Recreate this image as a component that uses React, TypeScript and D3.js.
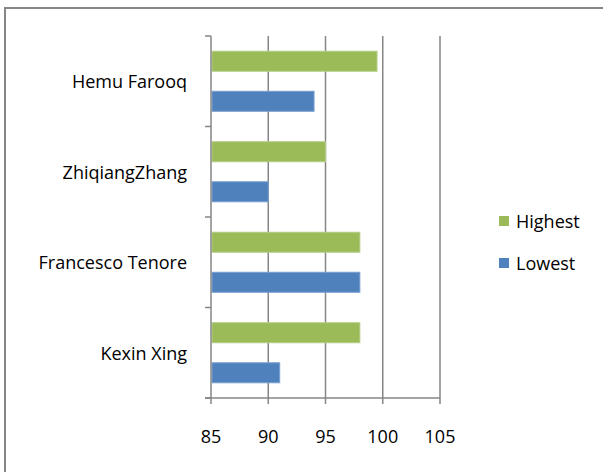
import React from "react";
import * as d3 from "d3";

// chart values
const categories = ["Hemu Farooq", "ZhiqiangZhang", "Francesco Tenore", "Kexin Xing"];
const highest = [99.5, 95, 98, 98];
const lowest = [94, 90, 98, 91];
const seriesNames = ["Highest", "Lowest"];
const xTicks = [85, 90, 95, 100, 105];

const width = 603;
const height = 472;
const plot = { left: 211, right: 440, top: 36, bottom: 398 };
const colors: Record<string, string> = { Highest: "#9BBB59", Lowest: "#4F81BD" };
const edge: Record<string, string> = { Highest: "#b4cd86", Lowest: "#7a9fcf" };
const grid = "#868686";
const font = "'Open Sans', sans-serif";

export default function App() {
  const x = d3.scaleLinear().domain([85, 105]).range([plot.left, plot.right]);
  const y = d3.scaleBand<string>().domain(categories).range([plot.top, plot.bottom]);
  const inner = d3
    .scaleBand<string>()
    .domain(seriesNames)
    .range([0, y.bandwidth()])
    .paddingInner(0.5)
    .paddingOuter(0.38);

  const values: Record<string, number[]> = { Highest: highest, Lowest: lowest };
  const boundaries = categories.map((c) => y(c)!).concat([plot.bottom]);

  return (
    <svg
      width={width}
      height={height}
      style={{ position: "absolute", left: 0, top: 0, background: "#fff" }}
    >
      <rect x={0} y={0} width={width} height={height} fill="#fff" />
      {/* chart border (runs off right/bottom) */}
      <rect x={5} y={8} width={700} height={600} fill="none" stroke={grid} strokeWidth={2} />

      {/* vertical gridlines */}
      {xTicks.slice(1).map((t) => (
        <line key={t} x1={x(t)} x2={x(t)} y1={plot.top} y2={plot.bottom} stroke={grid} strokeWidth={1.5} />
      ))}

      {/* bars */}
      {seriesNames.map((s) =>
        categories.map((c, i) => (
          <rect
            key={s + c}
            x={x(85) + 1}
            y={y(c)! + inner(s)!}
            width={x(values[s][i]) - x(85) - 1}
            height={inner.bandwidth()}
            fill={colors[s]}
            stroke={edge[s]}
            strokeWidth={1}
          />
        ))
      )}

      {/* category axis */}
      <line x1={plot.left} x2={plot.left} y1={plot.top} y2={plot.bottom} stroke={grid} strokeWidth={1.5} />
      {boundaries.map((b, i) => (
        <line key={i} x1={plot.left - 6} x2={plot.left} y1={b} y2={b} stroke={grid} strokeWidth={1.5} />
      ))}
      {categories.map((c) => (
        <text
          key={c}
          x={187}
          y={y(c)! + y.bandwidth() / 2}
          textAnchor="end"
          dominantBaseline="central"
          fontFamily={font}
          fontSize={18}
          fill="#000"
        >
          {c}
        </text>
      ))}

      {/* value axis */}
      <line x1={plot.left - 6} x2={plot.right} y1={plot.bottom} y2={plot.bottom} stroke={grid} strokeWidth={1.5} />
      {xTicks.map((t) => (
        <g key={t}>
          <line x1={x(t)} x2={x(t)} y1={plot.bottom} y2={plot.bottom + 6} stroke={grid} strokeWidth={1.5} />
          <text
            x={x(t)}
            y={436}
            textAnchor="middle"
            dominantBaseline="central"
            fontFamily={font}
            fontSize={18}
            fill="#000"
          >
            {t}
          </text>
        </g>
      ))}

      {/* legend */}
      {seriesNames.map((s, i) => (
        <g key={s} transform={`translate(499, ${221 + i * 42})`}>
          <rect x={0} y={-5} width={10} height={10} fill={colors[s]} />
          <text x={17} y={0} dominantBaseline="central" fontFamily={font} fontSize={18} fill="#000">
            {s}
          </text>
        </g>
      ))}
    </svg>
  );
}
